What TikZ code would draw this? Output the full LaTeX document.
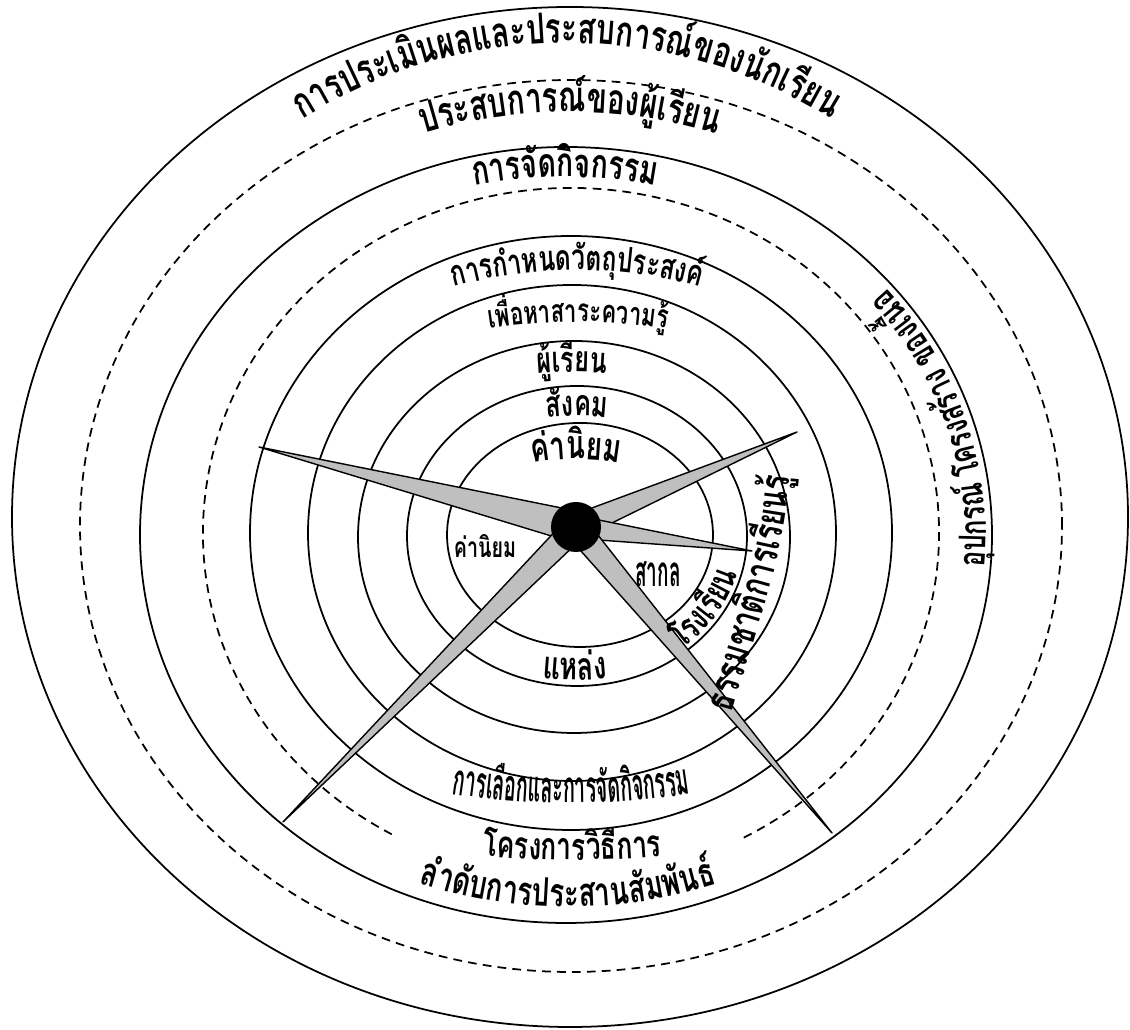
\documentclass[tikz,border=0pt]{standalone}
\usepackage{fontspec}
\newfontfamily\thaifont[Script=Thai, FakeStretch=0.7]{Loma}
\newfontfamily\thainarrow[Script=Thai, FakeStretch=0.45]{Loma}
\usetikzlibrary{calc, decorations.text}
\newcommand\thaibold[1]{\thaifont\bfseries\fontsize{#1}{#1}\selectfont}
\newcommand\thaislim[1]{\thainarrow\bfseries\fontsize{#1}{#1}\selectfont}

\begin{document}
\begin{tikzpicture}[
    x=0.02cm, y=0.02cm,
    ring/.style={draw, line width=1pt},
    dashring/.style={draw, line width=1pt, dash pattern=on 5pt off 3.5pt},
    blade/.style={draw, fill=black!25, line width=0.8pt, line join=round},
    arclabel/.style={decorate, decoration={text along path, text align=center, text={#1}}}
]
\useasboundingbox (0,0) rectangle (1130,1030);

% Rings
\draw[ring] (570,513) ellipse[x radius=558, y radius=510];
\draw[dashring] (571,504) ellipse[x radius=491, y radius=446];
\draw[ring] (566,495) ellipse[x radius=426, y radius=388];
\draw[dashring] (571,497) ++(298:368 and 345) arc[start angle=298, end angle=601, x radius=368, y radius=345];
\draw[ring] (571,497) ellipse[x radius=321, y radius=297];
\draw[ring] (572,497) ellipse[x radius=264, y radius=248];
\draw[ring] (574,493) ellipse[x radius=216, y radius=196];
\draw[ring] (577,494) ellipse[x radius=170, y radius=150];
\draw[ring] (580,495) ellipse[x radius=133, y radius=112];

% Blades
\coordinate (hub) at (576,503);
\coordinate (tipul) at (259,583);
\coordinate (tipur) at (797,598);
\coordinate (tipr) at (752,479);
\coordinate (tiplr) at (832,197);
\coordinate (tipll) at (283,208);
\foreach \tip/\half in {tipul/9pt, tipur/7pt, tipr/6.5pt, tiplr/7pt, tipll/7pt}
  \filldraw[blade] ($(hub)!\half!90:(\tip)$) -- (\tip) -- ($(hub)!\half!-90:(\tip)$) -- cycle;

% Upper labels
\path[arclabel={|\thaibold{24pt}|การประเ{มิ}นผลและประสบการ{ณ์}ของ{นั}กเ{รี}ยน}] (567,490) ++(140:497) arc[start angle=140, end angle=40, radius=497];
\path[arclabel={|\thaibold{24pt}|ประสบการ{ณ์}ของ{ผู้}เ{รี}ยน}] (570,418) ++(130:500) arc[start angle=130, end angle=50, radius=500];
\path[arclabel={|\thaibold{23pt}|การ{จั}ด{กิ}จกรรม}] (565,353) ++(120:500) arc[start angle=120, end angle=60, radius=500];
\path[arclabel={|\thaibold{20pt}|การ{กำ}หนด{วั}ต{ถุ}ประสง{ค์}}] (577,302) ++(125:458) arc[start angle=125, end angle=55, radius=458];
\path[arclabel={|\thaibold{18pt}|เ{พื่}อหาสาระความ{รู้}}] (578,108) ++(110:600) arc[start angle=110, end angle=70, radius=600];
\path[arclabel={|\thaibold{20.5pt}|{ผู้}เ{รี}ยน}] (572,258) ++(110:400) arc[start angle=110, end angle=70, radius=400];
\path[arclabel={|\thaibold{20.5pt}|{สั}งคม}] (577,314) ++(115:300) arc[start angle=115, end angle=65, radius=300];
\path[arclabel={|\thaibold{22.5pt}|{ค่}า{นิ}ยม}] (576,321) ++(120:250) arc[start angle=120, end angle=60, radius=250];

% Inner labels
\node[anchor=base] (leftvalue) at (485,472) {\thaibold{16pt}ค่านิยม};
\node[anchor=base] (globalvalue) at (658,443) {\thaislim{24pt}สากล};

% Lower and right labels
\path[arclabel={|\thaibold{22pt}|แห{ล่}ง}] (575,650) ++(240:300) arc[start angle=240, end angle=300, radius=300];
\path[arclabel={|\thaibold{21pt}|โรงเ{รี}ยน}] (577,494) ++(-70:166 and 146) arc[start angle=-70, end angle=6, x radius=166, y radius=146];
\path[arclabel={|\thaibold{23pt}|ธรรมชา{ติ}การเ{รี}ยน{รู้}}] (730,310) .. controls (755,400) and (785,470) .. (790,560);
\path[arclabel={|\thaislim{25pt}|การเ{ลื}อกและการ{จั}ด{กิ}จกรรม}] (571,1027) ++(255:800) arc[start angle=255, end angle=285, radius=800];
\path[arclabel={|\thaibold{21.5pt}|โครงการ{วิ}{ธี}การ}] (572,1170) ++(260:1000) arc[start angle=260, end angle=280, radius=1000];
\path[arclabel={|\thaibold{22.5pt}|{ลำ}{ดั}บการประสาน{สั}ม{พั}น{ธ์}}] (568,612) ++(235:489) arc[start angle=235, end angle=305, radius=489];
\path[arclabel={|\thaibold{21pt}|{อุ}ปกร{ณ์} โครงส{ร้}าง ของเ{นื้}อ}] (566,495) ++(-33:420 and 382) arc[start angle=-33, end angle=67, x radius=420, y radius=382];

% Hub
\fill (hub) circle[radius=25];
\end{tikzpicture}
\end{document}
